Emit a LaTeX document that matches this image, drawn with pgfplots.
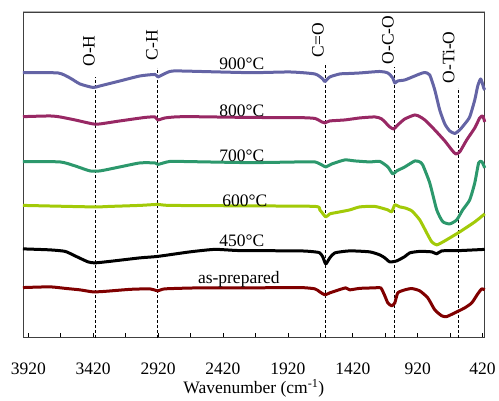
\documentclass[border=0pt]{standalone}
\usepackage{pgfplots}
\pgfplotsset{compat=1.18}
\usepackage{fontspec}
\setmainfont{Liberation Serif}
\definecolor{c900}{RGB}{100,100,165}
\definecolor{c800}{RGB}{152,40,100}
\definecolor{c700}{RGB}{44,152,108}
\definecolor{c600}{RGB}{162,202,8}
\definecolor{cas}{RGB}{128,0,0}
\newcommand{\fs}{\fontsize{17.5}{20}\selectfont}
\begin{document}
\begin{tikzpicture}
\begin{axis}[
  scale only axis, width=462pt, height=326pt,
  at={(0,0)}, anchor=south west,
  x dir=reverse, xmin=403, xmax=3961, ymin=62, ymax=388,
  xtick={420,920,...,3920}, minor xtick={670,1170,...,3670},
  ytick=\empty, xtick pos=bottom, tick align=inside,
  major tick length=5pt, minor tick length=5pt,
  axis line style={black!75, line width=0.8pt},
  every tick/.style={black, line width=0.7pt},
  /pgf/number format/assume math mode=true,
  /pgf/number format/1000 sep={},
  xticklabel style={font=\fs, anchor=base, yshift=-37pt},
  xlabel={Wavenumber (cm\textsuperscript{-1})},
  xlabel style={font=\fs, at={(axis description cs:0.5,0)}, anchor=base, yshift=-56pt},
  every axis plot/.append style={line width=3pt, line join=round, smooth, tension=0.35},
  clip=false,
]
% dashed guide lines
\addplot[black, line width=0.6pt, dash pattern=on 3pt off 2pt, sharp plot] coordinates {(3402,62) (3402,323)};
\addplot[black, line width=0.6pt, dash pattern=on 3pt off 2pt, sharp plot] coordinates {(2925,62) (2925,332)};
\addplot[black, line width=0.6pt, dash pattern=on 3pt off 2pt, sharp plot] coordinates {(1635,62) (1635,335)};
\addplot[black, line width=0.6pt, dash pattern=on 3pt off 2pt, sharp plot] coordinates {(1099,62) (1099,333)};
\addplot[black, line width=0.6pt, dash pattern=on 3pt off 2pt, sharp plot] coordinates {(605,62) (605,312)};
% 900
\addplot[c900] coordinates {
(3961,327.3) (3691,327) (3599,322) (3522,316) (3422,312.5) (3368,314) (3214,319) (3060,324)
(2944,325.5) (2921,323) (2890,325) (2829,328.5) (2752,329) (2213,327.3) (1905,328) (1712,326)
(1651,321) (1635,318.3) (1597,323) (1520,326) (1443,326.5) (1366,327) (1212,328.5) (1150,327)
(1112,322) (1096,317) (1073,319) (1019,320) (942,324) (904,326) (865,327.5) (827,325) (788,310)
(750,290) (711,276) (673,269) (634,266.5) (596,270) (557,276) (519,283) (480,300) (457,314)
(434,321) (411,312) (403,310)};
% 800
\addplot[c800] coordinates {
(3961,283.3) (3753,284) (3676,283) (3560,280) (3422,276) (3368,276) (3214,279) (3021,282.5)
(2944,283) (2921,280) (2867,282) (2790,283) (2675,283.3) (2213,282.5) (1828,282.3) (1712,281.5)
(1658,278) (1635,277) (1597,279) (1481,280) (1366,282) (1250,283) (1197,281) (1135,273)
(1104,271) (1073,275) (1019,281) (942,285) (904,283.3) (865,280) (788,270) (711,259) (657,250)
(627,246) (596,248) (542,260) (480,272) (442,282) (419,284) (403,278)};
% 700
\addplot[c700] coordinates {
(3961,238.3) (3676,238) (3560,234) (3445,229) (3368,229) (3214,233) (3060,237) (2944,237)
(2921,235.5) (2829,238.5) (2675,238.3) (2213,237.3) (1828,238) (1712,238) (1658,235) (1628,233)
(1581,236) (1481,240) (1404,239) (1289,238) (1212,238.5) (1150,233) (1112,226) (1081,229)
(1019,233) (942,239) (904,238) (881,235) (827,217) (773,190) (727,178.3) (673,176) (619,180)
(573,190) (519,200) (480,217) (450,237) (426,238.3) (403,232)};
% 600
\addplot[c600] coordinates {
(3961,194.5) (3422,193) (3291,193.5) (3060,194.5) (2921,195.5) (2829,194.5) (2213,194)
(1712,193.5) (1674,190) (1628,183) (1597,186) (1520,188) (1443,190) (1366,193) (1250,193.5)
(1150,190) (1120,188) (1096,195) (1058,193) (1019,192) (965,189) (904,180) (842,165) (811,158)
(773,155) (711,159) (596,168) (480,178) (403,186)};
% 450
\addplot[black] coordinates {
(3961,151) (3753,150) (3637,148.5) (3560,144) (3460,138) (3406,137) (3291,138.5) (3060,142)
(2921,143.5) (2675,148) (2482,150.5) (2290,149.3) (1828,149) (1712,148) (1674,147) (1651,143)
(1628,136) (1597,142) (1558,147) (1443,149) (1289,148) (1212,145) (1173,142) (1135,138)
(1081,139) (1019,143.3) (981,147) (904,148.5) (811,148) (773,146) (734,149) (596,149.3) (403,150.5)};
% as-prepared
\addplot[cas] coordinates {
(3961,112.3) (3753,113) (3637,111.5) (3522,110) (3422,108) (3329,108.5) (3137,110.5) (2983,111)
(2921,109) (2867,111) (2598,112) (2213,112) (1828,112.3) (1712,111) (1674,108) (1635,105)
(1597,107) (1520,110.3) (1474,112) (1443,110) (1366,111.5) (1250,112) (1204,112) (1173,104)
(1150,97) (1120,94) (1096,97) (1073,107) (1019,110) (965,111.3) (904,109) (842,102) (788,90)
(734,84) (696,83.3) (634,87) (557,92) (503,97) (457,106) (426,111) (403,110)};
% labels
\node[font=\fs, anchor=base] at (axis cs:2274,330) {900°C};
\node[font=\fs, anchor=base] at (axis cs:2274,283.3) {800°C};
\node[font=\fs, anchor=base] at (axis cs:2274,238.3) {700°C};
\node[font=\fs, anchor=base] at (axis cs:2251,193.3) {600°C};
\node[font=\fs, anchor=base] at (axis cs:2274,153.3) {450°C};
\node[font=\fs, anchor=base] at (axis cs:2298,116) {as-prepared};
\node[font=\fs, rotate=90] at (axis cs:3453,349) {O-H};
\node[font=\fs, rotate=90] at (axis cs:2968,355) {C-H};
\node[font=\fs, rotate=90] at (axis cs:1689,360) {C=O};
\node[font=\fs, rotate=90] at (axis cs:1150,360) {O-C-O};
\node[font=\fs, rotate=90] at (axis cs:681,342.5) {O-Ti-O};
\draw[gray!60, line width=1pt] (rel axis cs:0,1) -- (rel axis cs:1,1);
\end{axis}
\path[use as bounding box] (-23pt,-60pt) rectangle (476pt,338pt);
\end{tikzpicture}
\end{document}
